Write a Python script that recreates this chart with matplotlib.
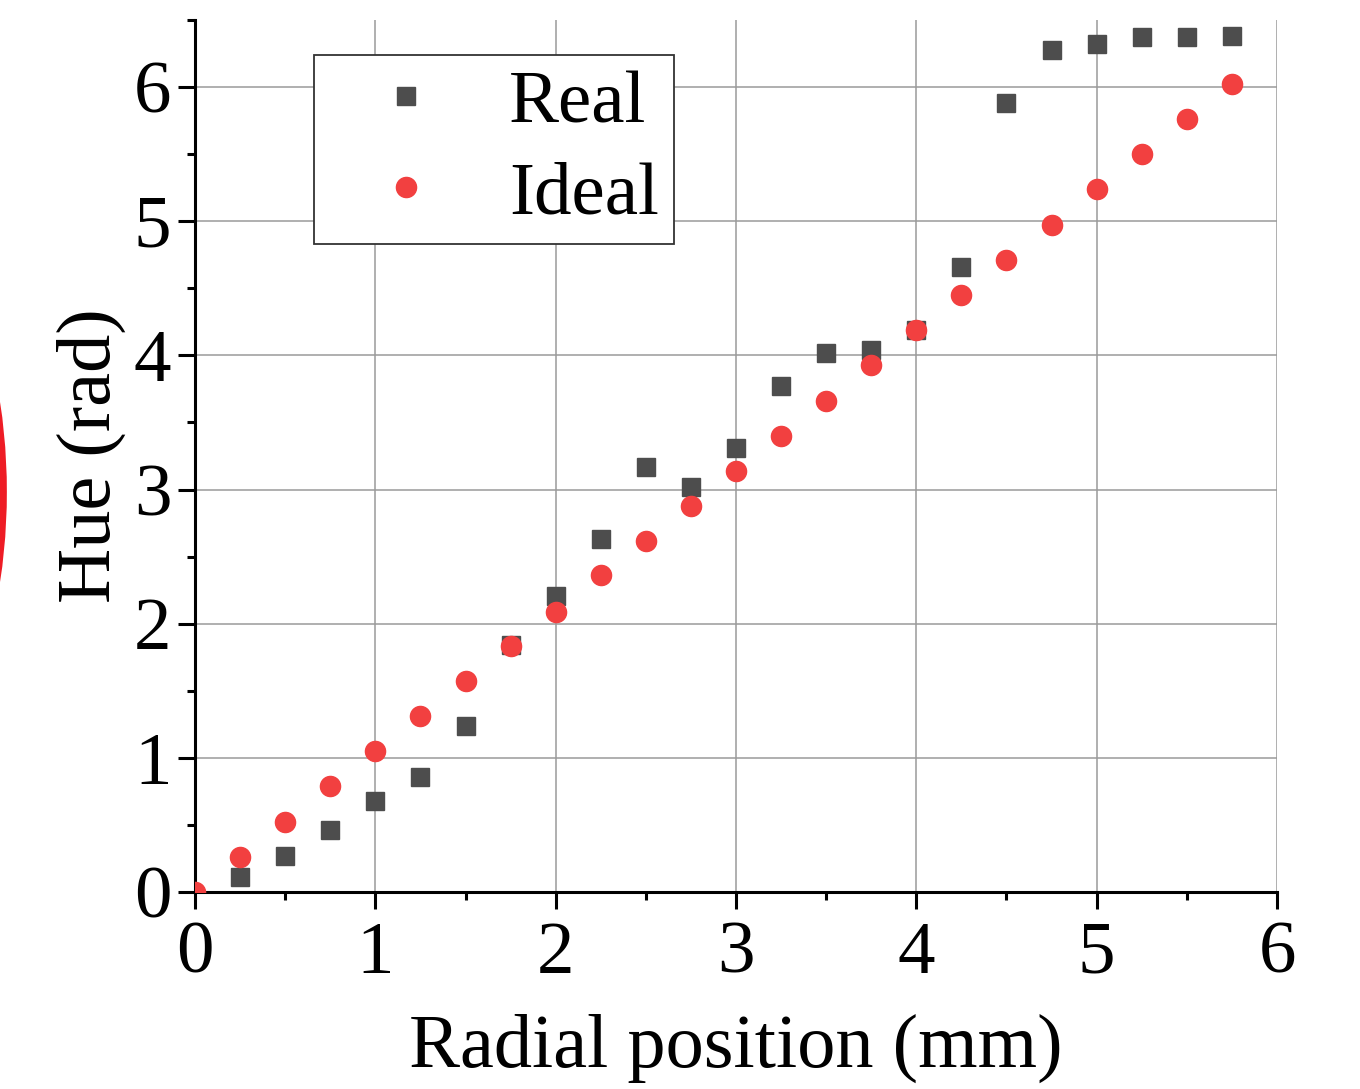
import matplotlib
matplotlib.use("Agg")
import matplotlib.pyplot as plt
from matplotlib.patches import Circle
from matplotlib.transforms import IdentityTransform
from matplotlib.ticker import MultipleLocator

plt.rcParams["font.family"] = ["Liberation Serif", "DejaVu Serif"]

# radial position (mm)
pos_real = [0.25, 0.5, 0.75, 1.0, 1.25, 1.5, 1.75, 2.0, 2.25, 2.5, 2.75, 3.0,
            3.25, 3.5, 3.75, 4.0, 4.25, 4.5, 4.75, 5.0, 5.25, 5.5, 5.75]
hue_real = [0.11, 0.27, 0.46, 0.68, 0.86, 1.24, 1.84, 2.21, 2.63, 3.17, 3.02, 3.31,
            3.77, 4.02, 4.04, 4.19, 4.66, 5.88, 6.28, 6.32, 6.37, 6.37, 6.38]

pos_ideal = [0.0, 0.25, 0.5, 0.75, 1.0, 1.25, 1.5, 1.75, 2.0, 2.25, 2.5, 2.75, 3.0,
             3.25, 3.5, 3.75, 4.0, 4.25, 4.5, 4.75, 5.0, 5.25, 5.5, 5.75]
hue_ideal = [0.0, 0.26, 0.52, 0.79, 1.05, 1.31, 1.57, 1.83, 2.09, 2.36, 2.62, 2.88, 3.14,
             3.40, 3.66, 3.93, 4.19, 4.45, 4.71, 4.97, 5.24, 5.50, 5.76, 6.02]

W, H = 1360, 1089
fig = plt.figure(figsize=(W / 100, H / 100), dpi=100)
ax = fig.add_axes([195 / W, 1 - 892 / H, (1277 - 195) / W, (892 - 20) / H])

ax.plot(pos_real, hue_real, linestyle="none", marker="s", markersize=13.5,
        color="#4d4d4d", label="Real", zorder=3)
ax.plot(pos_ideal, hue_ideal, linestyle="none", marker="o", markersize=14.5,
        color="#f24040", label="Ideal", zorder=4)

ax.set_xlim(0, 6)
ax.set_ylim(0, 6.5)
ax.xaxis.set_major_locator(MultipleLocator(1))
ax.xaxis.set_minor_locator(MultipleLocator(0.5))
ax.yaxis.set_major_locator(MultipleLocator(1))
ax.yaxis.set_minor_locator(MultipleLocator(0.5))

ax.grid(True, which="major", color="#9a9a9a", linewidth=1.1)
ax.set_axisbelow(True)
for s in ["top", "right"]:
    ax.spines[s].set_visible(False)
for s in ["left", "bottom"]:
    ax.spines[s].set_linewidth(2.2)

ax.tick_params(which="major", direction="out", length=12, width=2.2, labelsize=54)
ax.tick_params(axis="x", which="major", pad=9)
ax.tick_params(axis="y", which="major", pad=5)
ax.tick_params(which="minor", direction="out", length=5.5, width=2.2)

ax.set_xlabel("Radial position (mm)", fontsize=55, labelpad=18)
ax.set_ylabel("Hue (rad)", fontsize=55, labelpad=6)

leg = ax.legend(loc="upper left", bbox_to_anchor=(0.11, 0.96), fontsize=54,
                frameon=True, fancybox=False, edgecolor="#333333",
                handletextpad=0.35, borderpad=0.2, labelspacing=0.3,
                handlelength=2.05, borderaxespad=0)
leg.get_frame().set_linewidth(1.3)
leg.get_frame().set_alpha(1)

# red ring fragment at left edge
ring = Circle((-598, H - 492), 600, transform=IdentityTransform(),
              fill=False, edgecolor="#ee1c25", linewidth=7)
fig.patches.append(ring)

fig.savefig("out.png", dpi=100)
